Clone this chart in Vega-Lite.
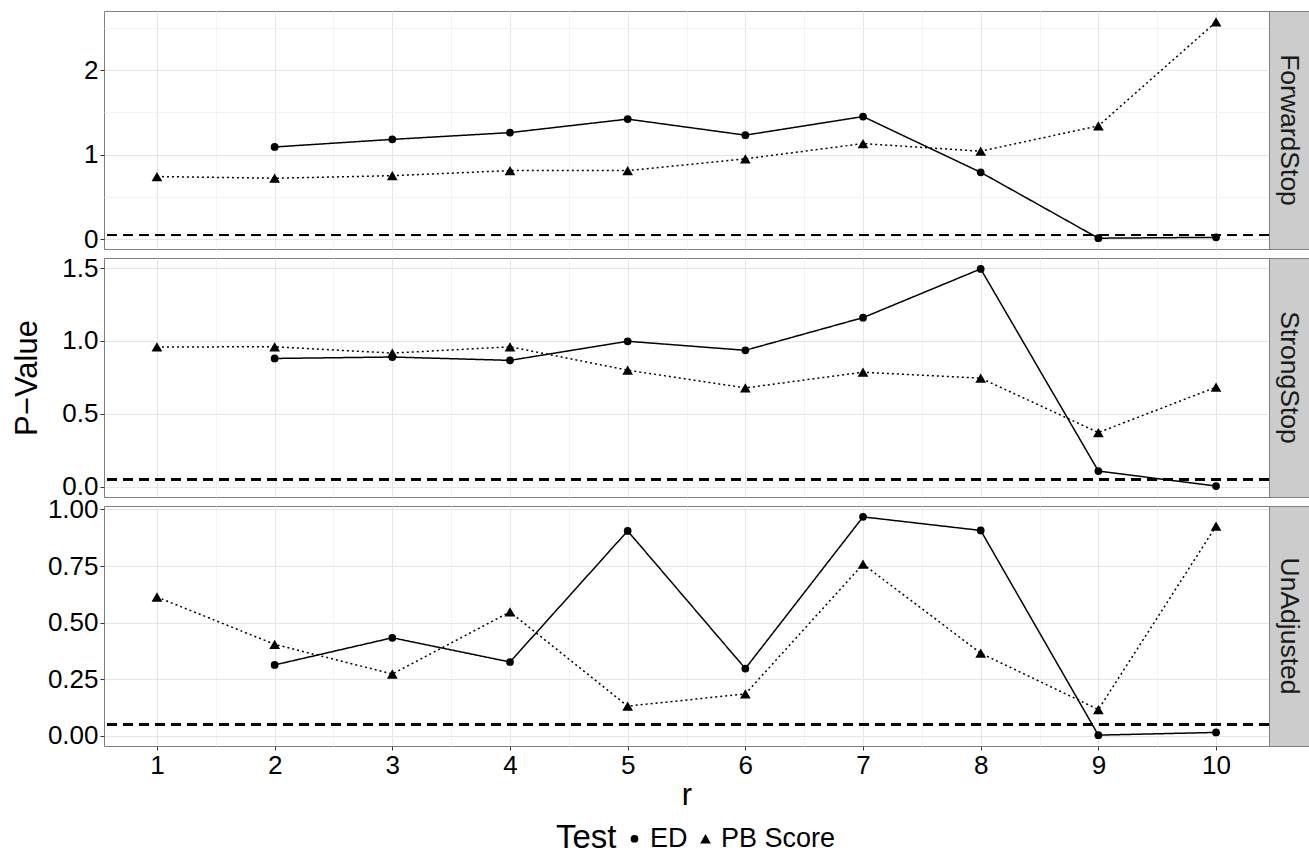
{
  "$schema": "https://vega.github.io/schema/vega-lite/v6.json",
  "background": "white",
  "padding": {"left": 11, "top": 10, "right": 1, "bottom": 2},
  "datasets": {
    "pv": [
      {"panel": "ForwardStop", "test": "ED", "r": 2, "p": 1.09},
      {"panel": "ForwardStop", "test": "ED", "r": 3, "p": 1.18},
      {"panel": "ForwardStop", "test": "ED", "r": 4, "p": 1.26},
      {"panel": "ForwardStop", "test": "ED", "r": 5, "p": 1.42},
      {"panel": "ForwardStop", "test": "ED", "r": 6, "p": 1.23},
      {"panel": "ForwardStop", "test": "ED", "r": 7, "p": 1.45},
      {"panel": "ForwardStop", "test": "ED", "r": 8, "p": 0.79},
      {"panel": "ForwardStop", "test": "ED", "r": 9, "p": 0.01},
      {"panel": "ForwardStop", "test": "ED", "r": 10, "p": 0.02},
      {"panel": "ForwardStop", "test": "PB Score", "r": 1, "p": 0.74},
      {"panel": "ForwardStop", "test": "PB Score", "r": 2, "p": 0.72},
      {"panel": "ForwardStop", "test": "PB Score", "r": 3, "p": 0.75},
      {"panel": "ForwardStop", "test": "PB Score", "r": 4, "p": 0.81},
      {"panel": "ForwardStop", "test": "PB Score", "r": 5, "p": 0.81},
      {"panel": "ForwardStop", "test": "PB Score", "r": 6, "p": 0.95},
      {"panel": "ForwardStop", "test": "PB Score", "r": 7, "p": 1.13},
      {"panel": "ForwardStop", "test": "PB Score", "r": 8, "p": 1.04},
      {"panel": "ForwardStop", "test": "PB Score", "r": 9, "p": 1.34},
      {"panel": "ForwardStop", "test": "PB Score", "r": 10, "p": 2.57},
      {"panel": "StrongStop", "test": "ED", "r": 2, "p": 0.88},
      {"panel": "StrongStop", "test": "ED", "r": 3, "p": 0.89},
      {"panel": "StrongStop", "test": "ED", "r": 4, "p": 0.867},
      {"panel": "StrongStop", "test": "ED", "r": 5, "p": 0.998},
      {"panel": "StrongStop", "test": "ED", "r": 6, "p": 0.936},
      {"panel": "StrongStop", "test": "ED", "r": 7, "p": 1.16},
      {"panel": "StrongStop", "test": "ED", "r": 8, "p": 1.494},
      {"panel": "StrongStop", "test": "ED", "r": 9, "p": 0.108},
      {"panel": "StrongStop", "test": "ED", "r": 10, "p": 0.005},
      {"panel": "StrongStop", "test": "PB Score", "r": 1, "p": 0.959},
      {"panel": "StrongStop", "test": "PB Score", "r": 2, "p": 0.96},
      {"panel": "StrongStop", "test": "PB Score", "r": 3, "p": 0.917},
      {"panel": "StrongStop", "test": "PB Score", "r": 4, "p": 0.96},
      {"panel": "StrongStop", "test": "PB Score", "r": 5, "p": 0.8},
      {"panel": "StrongStop", "test": "PB Score", "r": 6, "p": 0.678},
      {"panel": "StrongStop", "test": "PB Score", "r": 7, "p": 0.786},
      {"panel": "StrongStop", "test": "PB Score", "r": 8, "p": 0.745},
      {"panel": "StrongStop", "test": "PB Score", "r": 9, "p": 0.372},
      {"panel": "StrongStop", "test": "PB Score", "r": 10, "p": 0.683},
      {"panel": "UnAdjusted", "test": "ED", "r": 2, "p": 0.313},
      {"panel": "UnAdjusted", "test": "ED", "r": 3, "p": 0.433},
      {"panel": "UnAdjusted", "test": "ED", "r": 4, "p": 0.326},
      {"panel": "UnAdjusted", "test": "ED", "r": 5, "p": 0.905},
      {"panel": "UnAdjusted", "test": "ED", "r": 6, "p": 0.297},
      {"panel": "UnAdjusted", "test": "ED", "r": 7, "p": 0.967},
      {"panel": "UnAdjusted", "test": "ED", "r": 8, "p": 0.907},
      {"panel": "UnAdjusted", "test": "ED", "r": 9, "p": 0.003},
      {"panel": "UnAdjusted", "test": "ED", "r": 10, "p": 0.015},
      {"panel": "UnAdjusted", "test": "PB Score", "r": 1, "p": 0.613},
      {"panel": "UnAdjusted", "test": "PB Score", "r": 2, "p": 0.404},
      {"panel": "UnAdjusted", "test": "PB Score", "r": 3, "p": 0.273},
      {"panel": "UnAdjusted", "test": "PB Score", "r": 4, "p": 0.547},
      {"panel": "UnAdjusted", "test": "PB Score", "r": 5, "p": 0.131},
      {"panel": "UnAdjusted", "test": "PB Score", "r": 6, "p": 0.185},
      {"panel": "UnAdjusted", "test": "PB Score", "r": 7, "p": 0.758},
      {"panel": "UnAdjusted", "test": "PB Score", "r": 8, "p": 0.365},
      {"panel": "UnAdjusted", "test": "PB Score", "r": 9, "p": 0.116},
      {"panel": "UnAdjusted", "test": "PB Score", "r": 10, "p": 0.926}
    ],
    "strips": [
      {"label": "ForwardStop"},
      {"label": "StrongStop"},
      {"label": "UnAdjusted"}
    ]
  },
  "config": {
    "font": "Liberation Sans",
    "view": {"stroke": "#7f7f7f", "strokeWidth": 1},
    "axis": {
      "labelFont": "Liberation Sans", "labelFontSize": 26, "labelColor": "black",
      "titleFont": "Liberation Sans", "titleFontSize": 31, "titleFontWeight": "normal", "titleColor": "black",
      "tickColor": "#333333", "tickSize": 4, "domain": false, "labelPadding": 2,
      "labelOverlap": false, "labelFlush": false
    },
    "legend": {
      "titleFont": "Liberation Sans", "labelFont": "Liberation Sans",
      "titleFontSize": 33, "titleFontWeight": "normal", "labelFontSize": 27,
      "titleColor": "black", "labelColor": "black",
      "orient": "none", "legendX": 452, "legendY": 814,
      "direction": "horizontal", "titleOrient": "left", "titlePadding": 4,
      "symbolFillColor": "black", "symbolStrokeColor": "black", "columnPadding": 4, "labelOffset": 2
    }
  },
  "columns": 2,
  "spacing": {"row": 9, "column": 0},
  "bounds": "flush",
  "resolve": {"scale": {"x": "independent", "y": "independent"}},
  "concat": [
    {
      "width": 1165, "height": 238,
      "data": {"name": "pv"},
      "transform": [{"filter": "datum.panel === 'ForwardStop'"}],
      "layer": [
        {
          "mark": {"type": "line", "color": "black", "strokeWidth": 1.5},
          "encoding": {
            "x": {"field": "r", "type": "quantitative", "scale": {"domain": [0.55, 10.45], "nice": false, "zero": false},
              "axis": {"values": [1,1.5,2,2.5,3,3.5,4,4.5,5,5.5,6,6.5,7,7.5,8,8.5,9,9.5,10], "labels": false, "ticks": false, "title": null,
                "gridColor": {"condition": {"test": "datum.value % 1 === 0", "value": "#e5e5e5"}, "value": "#f3f3f3"}}},
            "y": {"field": "p", "type": "quantitative", "scale": {"domain": [-0.118, 2.7], "nice": false, "zero": false},
              "axis": {"values": [0,0.5,1,1.5,2,2.5], "title": null,
                "labelExpr": "datum.value % 1 === 0 ? format(datum.value, 'd') : ''",
                "tickOpacity": {"condition": {"test": "datum.value % 1 === 0", "value": 1}, "value": 0},
                "gridColor": {"condition": {"test": "datum.value % 1 === 0", "value": "#e5e5e5"}, "value": "#f3f3f3"}}},
            "strokeDash": {"field": "test", "type": "nominal", "scale": {"domain": ["ED", "PB Score"], "range": [[1, 0], [2, 3]]}, "title": "Test"}
          }
        },
        {
          "mark": {"type": "point", "filled": true, "color": "black", "opacity": 1},
          "encoding": {
            "x": {"field": "r", "type": "quantitative"},
            "y": {"field": "p", "type": "quantitative"},
            "size": {"field": "test", "type": "nominal", "scale": {"domain": ["ED", "PB Score"], "range": [60, 115]}, "title": "Test"},
            "shape": {"field": "test", "type": "nominal", "scale": {"domain": ["ED", "PB Score"], "range": ["circle", "triangle-up"]}, "title": "Test"}
          }
        },
        {
          "mark": {"type": "rule", "color": "black", "strokeWidth": 1.3, "strokeDash": [10, 6]},
          "encoding": {"y": {"datum": 0.05}}
        }
      ]
    },
    {
      "width": 40, "height": 238,
      "view": {"fill": "#cccccc", "stroke": "#7f7f7f"},
      "data": {"name": "strips"},
      "transform": [{"filter": "datum.label === 'ForwardStop'"}],
      "mark": {"type": "text", "angle": 90, "fontSize": 26.5, "color": "#1a1a1a", "font": "Liberation Sans", "align": "center", "baseline": "middle"},
      "encoding": {"text": {"field": "label", "type": "nominal"}}
    },
    {
      "width": 1165, "height": 239,
      "data": {"name": "pv"},
      "transform": [{"filter": "datum.panel === 'StrongStop'"}],
      "layer": [
        {
          "mark": {"type": "line", "color": "black", "strokeWidth": 1.5},
          "encoding": {
            "x": {"field": "r", "type": "quantitative", "scale": {"domain": [0.55, 10.45], "nice": false, "zero": false},
              "axis": {"values": [1,1.5,2,2.5,3,3.5,4,4.5,5,5.5,6,6.5,7,7.5,8,8.5,9,9.5,10], "labels": false, "ticks": false, "title": null,
                "gridColor": {"condition": {"test": "datum.value % 1 === 0", "value": "#e5e5e5"}, "value": "#f3f3f3"}}},
            "y": {"field": "p", "type": "quantitative", "scale": {"domain": [-0.07, 1.569], "nice": false, "zero": false},
              "axis": {"values": [0,0.25,0.5,0.75,1,1.25,1.5], "title": "P\u2212Value", "titlePadding": 18,
                "labelExpr": "(datum.value * 2) % 1 === 0 ? format(datum.value, '.1f') : ''",
                "tickOpacity": {"condition": {"test": "(datum.value * 2) % 1 === 0", "value": 1}, "value": 0},
                "gridColor": {"condition": {"test": "(datum.value * 2) % 1 === 0", "value": "#e5e5e5"}, "value": "#f3f3f3"}}},
            "strokeDash": {"field": "test", "type": "nominal", "scale": {"domain": ["ED", "PB Score"], "range": [[1, 0], [2, 3]]}, "title": "Test"}
          }
        },
        {
          "mark": {"type": "point", "filled": true, "color": "black", "opacity": 1},
          "encoding": {
            "x": {"field": "r", "type": "quantitative"},
            "y": {"field": "p", "type": "quantitative"},
            "size": {"field": "test", "type": "nominal", "scale": {"domain": ["ED", "PB Score"], "range": [60, 115]}, "title": "Test"},
            "shape": {"field": "test", "type": "nominal", "scale": {"domain": ["ED", "PB Score"], "range": ["circle", "triangle-up"]}, "title": "Test"}
          }
        },
        {
          "mark": {"type": "rule", "color": "black", "strokeWidth": 1.3, "strokeDash": [10, 6]},
          "encoding": {"y": {"datum": 0.05}}
        }
      ]
    },
    {
      "width": 40, "height": 239,
      "view": {"fill": "#cccccc", "stroke": "#7f7f7f"},
      "data": {"name": "strips"},
      "transform": [{"filter": "datum.label === 'StrongStop'"}],
      "mark": {"type": "text", "angle": 90, "fontSize": 26.5, "color": "#1a1a1a", "font": "Liberation Sans", "align": "center", "baseline": "middle"},
      "encoding": {"text": {"field": "label", "type": "nominal"}}
    },
    {
      "width": 1165, "height": 240,
      "data": {"name": "pv"},
      "transform": [{"filter": "datum.panel === 'UnAdjusted'"}],
      "layer": [
        {
          "mark": {"type": "line", "color": "black", "strokeWidth": 1.5},
          "encoding": {
            "x": {"field": "r", "type": "quantitative", "scale": {"domain": [0.55, 10.45], "nice": false, "zero": false},
              "axis": {"values": [1,1.5,2,2.5,3,3.5,4,4.5,5,5.5,6,6.5,7,7.5,8,8.5,9,9.5,10], "title": "r", "titlePadding": 2,
                "labelExpr": "datum.value % 1 === 0 ? format(datum.value, 'd') : ''",
                "tickOpacity": {"condition": {"test": "datum.value % 1 === 0", "value": 1}, "value": 0},
                "gridColor": {"condition": {"test": "datum.value % 1 === 0", "value": "#e5e5e5"}, "value": "#f3f3f3"}}},
            "y": {"field": "p", "type": "quantitative", "scale": {"domain": [-0.045, 1.015], "nice": false, "zero": false},
              "axis": {"values": [0,0.125,0.25,0.375,0.5,0.625,0.75,0.875,1], "title": null,
                "labelExpr": "(datum.value * 4) % 1 === 0 ? format(datum.value, '.2f') : ''",
                "tickOpacity": {"condition": {"test": "(datum.value * 4) % 1 === 0", "value": 1}, "value": 0},
                "gridColor": {"condition": {"test": "(datum.value * 4) % 1 === 0", "value": "#e5e5e5"}, "value": "#f3f3f3"}}},
            "strokeDash": {"field": "test", "type": "nominal", "scale": {"domain": ["ED", "PB Score"], "range": [[1, 0], [2, 3]]}, "title": "Test"}
          }
        },
        {
          "mark": {"type": "point", "filled": true, "color": "black", "opacity": 1},
          "encoding": {
            "x": {"field": "r", "type": "quantitative"},
            "y": {"field": "p", "type": "quantitative"},
            "size": {"field": "test", "type": "nominal", "scale": {"domain": ["ED", "PB Score"], "range": [60, 115]}, "title": "Test"},
            "shape": {"field": "test", "type": "nominal", "scale": {"domain": ["ED", "PB Score"], "range": ["circle", "triangle-up"]}, "title": "Test"}
          }
        },
        {
          "mark": {"type": "rule", "color": "black", "strokeWidth": 1.3, "strokeDash": [10, 6]},
          "encoding": {"y": {"datum": 0.05}}
        }
      ]
    },
    {
      "width": 40, "height": 240,
      "view": {"fill": "#cccccc", "stroke": "#7f7f7f"},
      "data": {"name": "strips"},
      "transform": [{"filter": "datum.label === 'UnAdjusted'"}],
      "mark": {"type": "text", "angle": 90, "fontSize": 26.5, "color": "#1a1a1a", "font": "Liberation Sans", "align": "center", "baseline": "middle"},
      "encoding": {"text": {"field": "label", "type": "nominal"}}
    }
  ]
}
